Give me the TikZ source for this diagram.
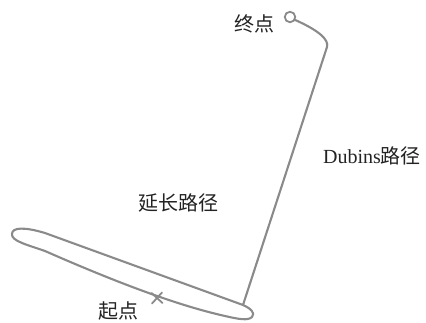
\documentclass[tikz,border=0pt]{standalone}
\usepackage{fontspec}
\setmainfont{Liberation Serif}
\newfontfamily\cjk{Noto Sans CJK SC}
\definecolor{pathgray}{RGB}{138,138,138}
\definecolor{txt}{RGB}{35,35,35}
\tikzset{
  pathline/.style={draw=pathgray, line width=2.1pt, line join=round, line cap=round},
  lbl/.style={text=txt, font=\fontsize{20}{24}\selectfont, inner sep=0pt}
}
\begin{document}
\begin{tikzpicture}[x=1pt,y=-1pt]
\useasboundingbox (0,0) rectangle (426,322);
% extended path (loop)
\coordinate (ltip) at (12,234);
\coordinate (topl) at (45,233);
\coordinate (dstart) at (243,305);
\coordinate (rtip) at (252,317);
\coordinate (botr) at (225,316);
\coordinate (botl) at (45,251);
\draw[pathline] (ltip) .. controls (12,227) and (25,227) .. (topl)
  -- (dstart) .. controls (250,308) and (256,313) .. (rtip)
  .. controls (248,321) and (238,319) .. (botr)
  .. controls (180,306) and (120,284) .. (botl)
  .. controls (28,245) and (11,241) .. (ltip) -- cycle;
% Dubins path
\coordinate (corner) at (327,47);
\coordinate (goal) at (290,17);
\draw[pathline] (dstart) -- (corner) .. controls (329,40) and (320,31) .. (294.8,19.8);
\node[circle, draw=pathgray, line width=1.8pt, minimum size=10.5pt, inner sep=0pt] (goalc) at (goal) {};
% start cross
\coordinate (st) at (157,298);
\draw[pathline, line width=1.8pt] ([shift={(-5.5,-5)}]st) -- ([shift={(5.5,5)}]st);
\draw[pathline, line width=1.8pt] ([shift={(-5,5.5)}]st) -- ([shift={(5,-5.5)}]st);
% labels
\node[lbl] (end) at (254,24) {\cjk 终点};
\node[lbl] (dub) at (372,156) {Dubins\cjk 路径};
\node[lbl] (ext) at (178,203) {\cjk 延长路径};
\node[lbl] (beg) at (118,311) {\cjk 起点};
\end{tikzpicture}
\end{document}
